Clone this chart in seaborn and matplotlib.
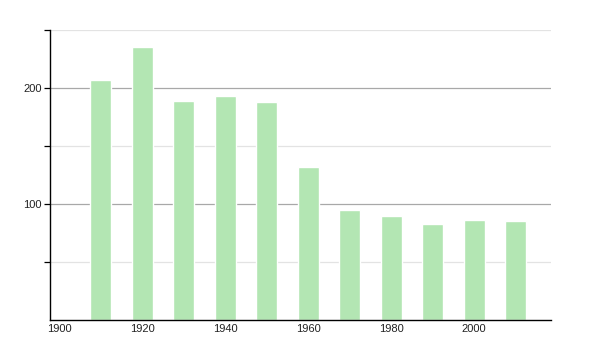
import matplotlib
matplotlib.use("Agg")
import matplotlib.pyplot as plt
import seaborn as sns
import pandas as pd

years = [1910, 1920, 1930, 1940, 1950, 1960, 1970, 1980, 1990, 2000, 2010]
values = [207, 235, 189, 193, 188, 132, 95, 90, 83, 86, 85]
x_ticks = [1900, 1920, 1940, 1960, 1980, 2000]
y_ticks = [100, 200]

sns.set_style("white")
plt.rcParams['font.family'] = ['Liberation Sans', 'DejaVu Sans']

df = pd.DataFrame({"year": years, "value": values})

fig = plt.figure(figsize=(6, 3.5), dpi=100)
ax = fig.add_axes([50/600, 30/350, 501/600, 290/350])

for v in [50, 150, 250]:
    ax.axhline(v, color="#e3e3e3", lw=0.9, zorder=0)
for v in [100, 200]:
    ax.axhline(v, color="#a8a8a8", lw=0.9, zorder=0)

sns.barplot(data=df, x="year", y="value", native_scale=True, width=0.5,
            color="#b3e6b3", saturation=1, ax=ax, zorder=2)

ax.set_xlim(1897.8, 2018.5)
ax.set_ylim(0, 250)
ax.set_xlabel("")
ax.set_ylabel("")

ax.set_xticks(x_ticks)
ax.set_xticklabels([str(t) for t in x_ticks], fontsize=8, color="#222222")
ax.set_yticks([50, 100, 150, 200, 250])
ax.set_yticklabels(["", "100", "", "200", ""], fontsize=8, color="#222222")
ax.tick_params(axis="x", length=0, pad=3)
ax.tick_params(axis="y", length=4, width=0.9, color="black", pad=2, left=True)

for s in ["top", "right"]:
    ax.spines[s].set_visible(False)
for s in ["left", "bottom"]:
    ax.spines[s].set_color("black")
    ax.spines[s].set_linewidth(1.0)

fig.savefig("out.png", dpi=100)
